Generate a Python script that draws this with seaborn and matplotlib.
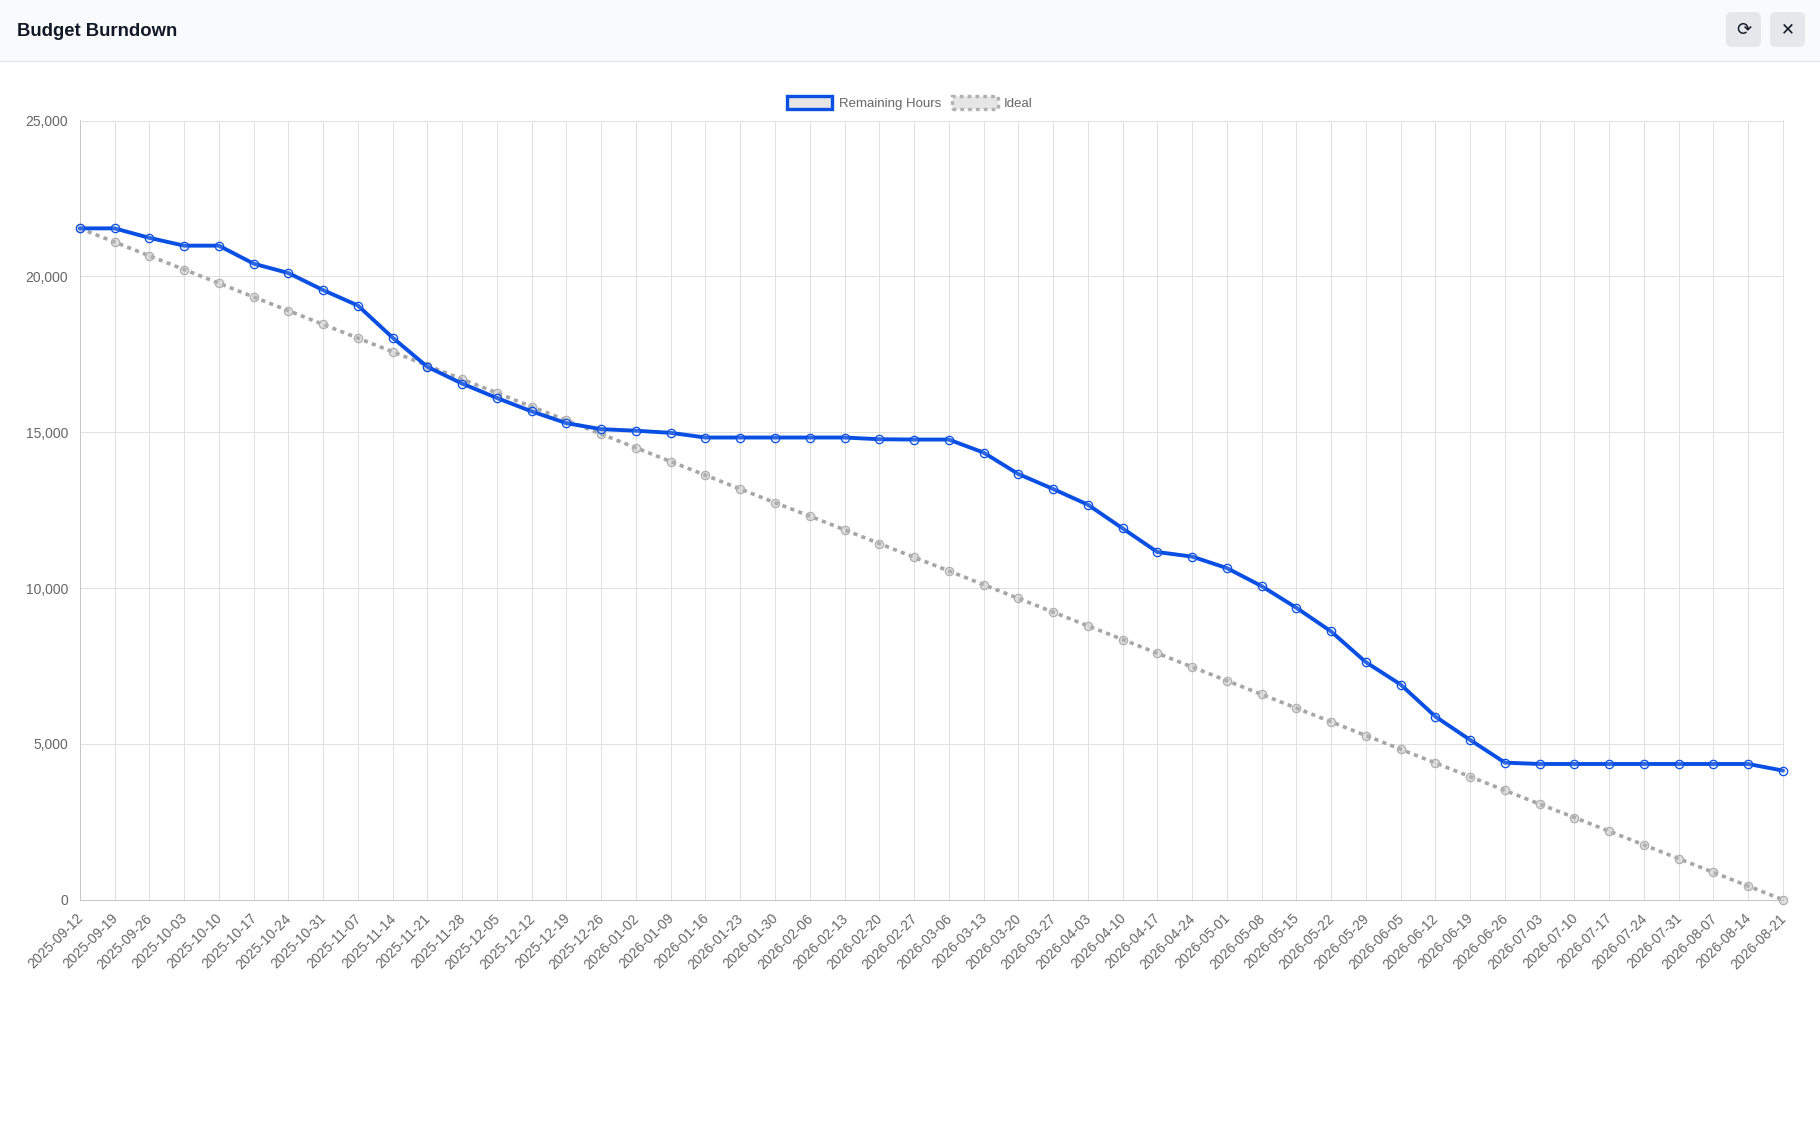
import matplotlib
matplotlib.use("Agg")
import matplotlib.pyplot as plt
from matplotlib.patches import FancyBboxPatch, Patch, Rectangle
from matplotlib.lines import Line2D
from matplotlib.ticker import FuncFormatter
from matplotlib.transforms import IdentityTransform, ScaledTranslation
import seaborn as sns

dates = ["2025-09-12","2025-09-19","2025-09-26","2025-10-03","2025-10-10","2025-10-17","2025-10-24","2025-10-31",
         "2025-11-07","2025-11-14","2025-11-21","2025-11-28","2025-12-05","2025-12-12","2025-12-19","2025-12-26",
         "2026-01-02","2026-01-09","2026-01-16","2026-01-23","2026-01-30","2026-02-06","2026-02-13","2026-02-20",
         "2026-02-27","2026-03-06","2026-03-13","2026-03-20","2026-03-27","2026-04-03","2026-04-10","2026-04-17",
         "2026-04-24","2026-05-01","2026-05-08","2026-05-15","2026-05-22","2026-05-29","2026-06-05","2026-06-12",
         "2026-06-19","2026-06-26","2026-07-03","2026-07-10","2026-07-17","2026-07-24","2026-07-31","2026-08-07",
         "2026-08-14","2026-08-21"]
remaining = [21540,21540,21236,20985,20985,20408,20107,19559,
             19065,18033,17098,16560,16098,15668,15291,15098,
             15048,14980,14830,14830,14830,14830,14830,14775,
             14765,14765,14347,13660,13180,12677,11916,11156,
             11010,10642,10064,9368,8608,7623,6906,5878,
             5128,4400,4357,4357,4357,4357,4357,4357,
             4357,4145]
ideal = [21540,21100,20660,20220,19780,19340,18900,18460,
         18020,17580,17140,16700,16260,15820,15380,14940,
         14500,14060,13620,13180,12740,12310,11870,11430,
         10990,10550,10110,9670,9230,8790,8350,7910,
         7470,7030,6590,6150,5710,5270,4830,4390,
         3950,3510,3070,2640,2200,1760,1320,880,
         440,0]
yticks = [0, 5000, 10000, 15000, 20000, 25000]
series_names = ["Remaining Hours", "Ideal"]
title = "Budget Burndown"

W, H = 1820, 1132
BLUE = "#0a4fe3"
GREY = "#a6a6a6"

sns.set_theme(style="whitegrid")
plt.rcParams["font.family"] = ["Liberation Sans", "DejaVu Sans"]

fig = plt.figure(figsize=(W / 100, H / 100), dpi=100, facecolor="white")
L, R, T, B = 79.8, 1783.0, 120.5, 899.8
ax = fig.add_axes([L / W, 1 - B / H, (R - L) / W, (B - T) / H])

sns.lineplot(x=dates, y=ideal, sort=False, errorbar=None, ax=ax, color=GREY, linewidth=2.6,
             linestyle=(0, (1.15, 1.2)), dash_capstyle="butt", marker="o", markersize=6,
             markerfacecolor=(0.72, 0.72, 0.72, 0.45), markeredgecolor="#b0b0b0", markeredgewidth=0.9,
             clip_on=False, zorder=3)
sns.lineplot(x=dates, y=remaining, sort=False, errorbar=None, ax=ax, color=BLUE, linewidth=2.8,
             marker="o", markersize=6, markerfacecolor=(0.75, 0.8, 0.95, 0.2), markeredgecolor=BLUE,
             markeredgewidth=0.9, clip_on=False, zorder=4)

ax.set_xlim(0, len(dates) - 1)
ax.set_ylim(0, 25000)
ax.set_yticks(yticks)
ax.yaxis.set_major_formatter(FuncFormatter(lambda v, _: f"{int(v):,}"))
ax.set_xticks(range(len(dates)))
ax.set_xticklabels(dates, rotation=45, ha="right", va="center", rotation_mode="anchor")
ax.set_xlabel("")
ax.set_ylabel("")
ax.set_axisbelow(True)
ax.grid(True, color="#e0e0e0", linewidth=0.72)
ax.tick_params(axis="both", length=6.3, width=0.72, color="#e0e0e0", labelcolor="#666666", labelsize=10)
ax.tick_params(axis="y", pad=2.2)
ax.tick_params(axis="x", pad=5.5)
shift = ScaledTranslation(1 / 100, 0, fig.dpi_scale_trans)
for lab in ax.get_xticklabels():
    lab.set_transform(lab.get_transform() + shift)
for side, sp in ax.spines.items():
    sp.set_linewidth(0.72)
    sp.set_color("#c6c6c6" if side in ("left", "bottom") else "#e0e0e0")

handles = [
    Patch(facecolor="#e6e6e6", edgecolor=BLUE, linewidth=2.4),
    Patch(facecolor="#e6e6e6", edgecolor="#b0b0b0", linewidth=2.4, linestyle=(0, (1.1, 1.25))),
]
ax.legend(handles, series_names, loc="center", ncol=2, frameon=False, fontsize=9.5,
          labelcolor="#666666", handlelength=3.42, handleheight=1.15, handletextpad=0.5,
          columnspacing=0.87, borderpad=0, borderaxespad=0,
          bbox_to_anchor=(910 / W, 1 - 103 / H), bbox_transform=fig.transFigure)

# window header
px = IdentityTransform()
fig.add_artist(Rectangle((0, H - 60.5), W, 60.5, transform=px, facecolor="#f9fafb", edgecolor="none"))
fig.add_artist(Line2D([0, W], [H - 61, H - 61], transform=px, color="#e5e7eb", linewidth=1))
fig.text(17 / W, 1 - 32 / H, title, fontsize=13.3, fontweight="bold", color="#111827", ha="left", va="center")
for x0, glyph, fs, wt in [(1726, "\u27f3", 13, "normal"), (1770, "\u2715", 12, "bold")]:
    fig.add_artist(FancyBboxPatch((x0 + 6, H - 47 + 6), 23, 23, boxstyle="round,pad=6,rounding_size=6",
                                  transform=px, facecolor="#e5e7eb", edgecolor="none"))
    fig.text((x0 + 17.5) / W, 1 - 29.5 / H, glyph, fontsize=fs, fontweight=wt, color="#111827",
             ha="center", va="center", family=["DejaVu Sans"])

fig.savefig("out.png", dpi=100, facecolor="white")
